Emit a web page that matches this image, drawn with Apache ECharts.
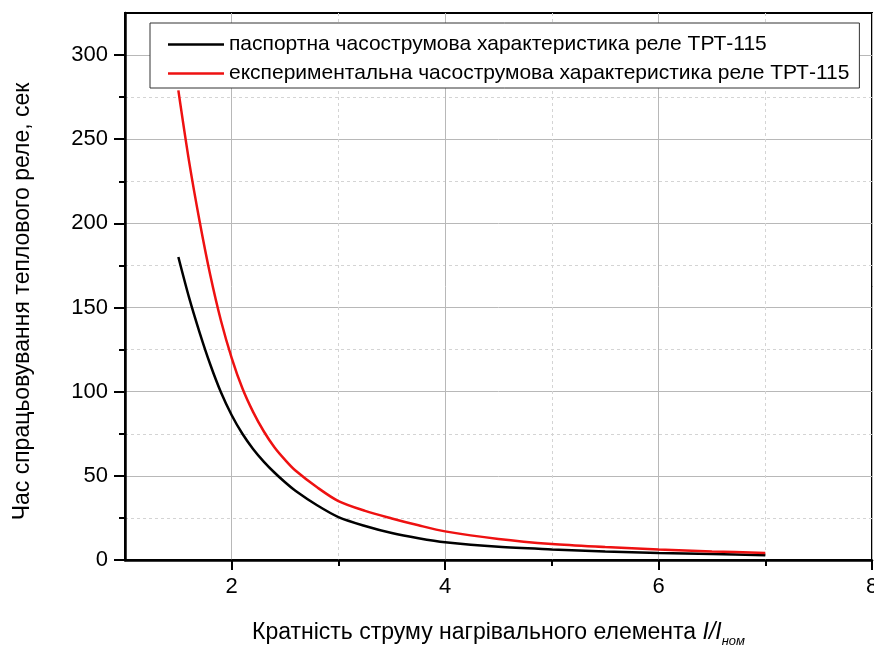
<!DOCTYPE html>
<html lang="uk">
<head>
    <meta charset="UTF-8"/>
    <title>Часострумова характеристика реле ТРТ-115</title>
    <style>
        * {
            padding: 0;
            margin: 0;
        }

        body {
            background: #fff;
        }

        .chart {
            width: 874px;
            height: 650px;
        }
    </style>
    <script src="https://cdn.jsdelivr.net/npm/echarts@6/dist/echarts.min.js"></script>
</head>
<body>
<div class="chart" id="chart"></div>
<script>
    // кратність струму I/Iном
    const ratio = [1.5, 1.6, 1.7, 1.8, 1.9, 2.0, 2.1, 2.2, 2.3, 2.4, 2.5, 2.6, 2.8, 3.0, 3.25, 3.5, 3.75, 4.0, 4.5, 5.0, 5.5, 6.0, 6.5, 7.0];
    // паспортна характеристика, сек
    const passportTime = [180, 156, 135, 116, 99.5, 86, 75, 66, 58.5, 52, 46.2, 41, 32.5, 25.5, 20.2, 16, 12.9, 10.5, 7.8, 6.3, 5.1, 4.2, 3.5, 2.8];
    // експериментальна характеристика, сек
    const experimentTime = [279, 237, 201, 169, 142, 120, 102, 88, 76.5, 67, 59.5, 53, 43.2, 35, 29.2, 24.7, 20.6, 17, 12.5, 9.5, 7.7, 6.2, 5.1, 4.2];

    const seriesNames = [
        "паспортна часострумова характеристика реле ТРТ-115",
        "експериментальна часострумова характеристика реле ТРТ-115",
    ];

    const xMajorTicks = [2, 4, 6, 8];
    const xMinorTicks = [3, 5, 7];
    const yMajorTicks = [0, 50, 100, 150, 200, 250, 300];
    const yMinorTicks = [25, 75, 125, 175, 225, 275];

    const font = "Liberation Sans";

    function pairs(xs, ys) {
        return xs.map((x, i) => [x, ys[i]]);
    }

    const dom = document.getElementById("chart");
    const myChart = echarts.init(dom);

    const options = {
        animation: false,
        textStyle: {fontFamily: font},
        grid: {
            left: 125,
            right: 2,
            top: 13,
            bottom: 90,
            outerBoundsMode: "none",
            containLabel: false,
            show: true,
            borderColor: "#000",
            borderWidth: 2,
        },
        legend: {
            orient: "vertical",
            left: 150,
            top: 23,
            padding: [11, 10, 4, 18],
            itemGap: 8,
            itemWidth: 56,
            itemHeight: 2.5,
            icon: "rect",
            backgroundColor: "#fff",
            borderColor: "#333",
            borderWidth: 1,
            textStyle: {fontSize: 21, color: "#000", fontFamily: font},
            data: seriesNames,
        },
        xAxis: [
            {
                type: "value",
                min: 1,
                max: 8,
                name: "{a|Кратність струму нагрівального елемента }{i|I/I}{s|ном}",
                nameLocation: "middle",
                nameGap: 57,
                nameTextStyle: {
                    rich: {
                        a: {fontSize: 23, color: "#000", fontFamily: font},
                        i: {fontSize: 23, color: "#000", fontStyle: "italic", fontFamily: font},
                        s: {fontSize: 13, color: "#000", fontStyle: "italic", fontFamily: font, padding: [18, 0, 0, 0]},
                    },
                },
                axisLine: {lineStyle: {color: "#000", width: 2.5}},
                axisTick: {length: 10, customValues: xMajorTicks, lineStyle: {color: "#000", width: 2}},
                axisLabel: {customValues: xMajorTicks, fontSize: 22, color: "#000", margin: 16},
                splitLine: {show: true, lineStyle: {color: "#b8b8b8", width: 1}},
            },
            {
                type: "value",
                min: 1,
                max: 8,
                position: "bottom",
                axisLine: {show: false},
                axisTick: {length: 6, customValues: xMinorTicks, lineStyle: {color: "#000", width: 2}},
                axisLabel: {show: false},
                splitLine: {show: true, lineStyle: {color: "#d4d4d4", width: 1, type: [3, 3]}},
            },
        ],
        yAxis: [
            {
                type: "value",
                min: 0,
                max: 325,
                name: "Час спрацьовування теплового реле, сек",
                nameLocation: "middle",
                nameGap: 91,
                nameTextStyle: {fontSize: 23, color: "#000", padding: [0, 30, 0, 0]},
                axisLine: {show: true, lineStyle: {color: "#000", width: 2.5}},
                axisTick: {show: true, length: 11, customValues: yMajorTicks, lineStyle: {color: "#000", width: 2}},
                axisLabel: {customValues: yMajorTicks, fontSize: 22, color: "#000", margin: 17},
                splitLine: {show: true, lineStyle: {color: "#b8b8b8", width: 1}},
            },
            {
                type: "value",
                min: 0,
                max: 325,
                position: "left",
                axisLine: {show: false},
                axisTick: {show: true, length: 6, customValues: yMinorTicks, lineStyle: {color: "#000", width: 2}},
                axisLabel: {show: false},
                splitLine: {show: true, lineStyle: {color: "#d4d4d4", width: 1, type: [3, 3]}},
            },
        ],
        series: [
            {
                name: seriesNames[0],
                type: "line",
                smooth: 0.3,
                symbol: "none",
                lineStyle: {color: "#000", width: 2.5},
                itemStyle: {color: "#000"},
                data: pairs(ratio, passportTime),
            },
            {
                name: seriesNames[1],
                type: "line",
                smooth: 0.3,
                symbol: "none",
                lineStyle: {color: "#ee1111", width: 2.5},
                itemStyle: {color: "#ee1111"},
                data: pairs(ratio, experimentTime),
            },
        ],
    };
    myChart.setOption(options);
</script>
</body>
</html>
